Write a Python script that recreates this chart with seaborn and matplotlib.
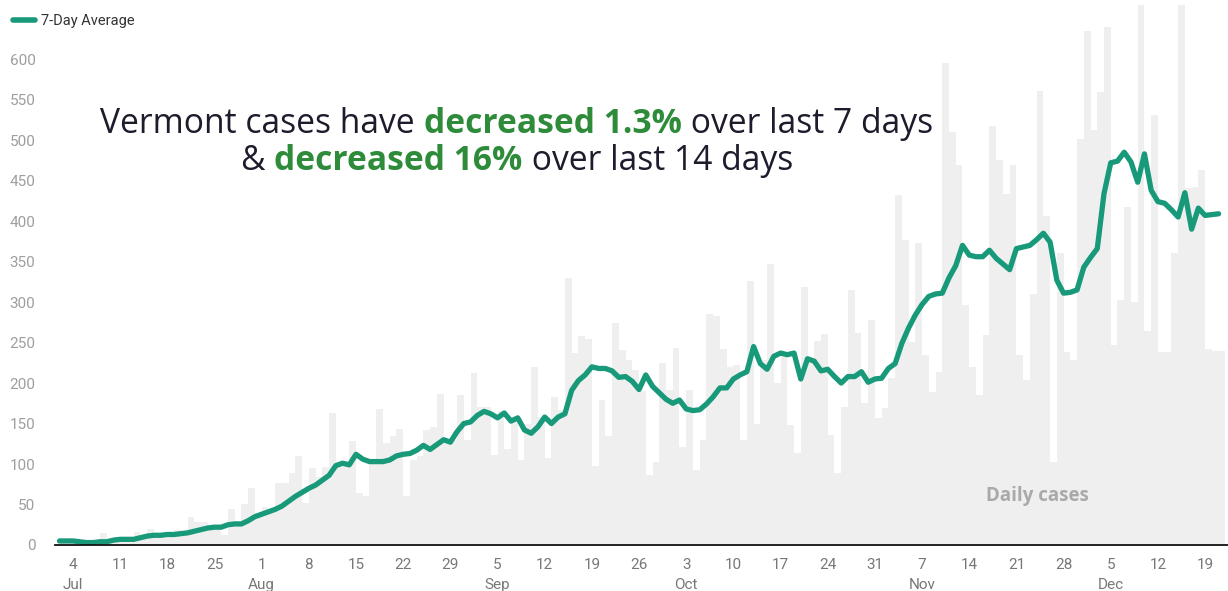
import numpy as np
import pandas as pd
import seaborn as sns
import matplotlib.pyplot as plt
from matplotlib.lines import Line2D

# Vermont daily cases + 7 day average, Jul 2 - Dec 21 2020
start_date = "2020-07-02"
end_date = "2020-12-21"
first_tick = "2020-07-04"

daily_cases = [
    6, 4, 5, 3, 2, 5, 15, 6, 4, 9,
    8, 16, 7, 20, 12, 10, 13, 18, 14, 35,
    28, 28, 18, 24, 12, 44, 30, 51, 70, 38,
    47, 45, 77, 77, 89, 110, 52, 95, 84, 96,
    163, 102, 100, 128, 64, 60, 101, 168, 126, 134,
    143, 60, 105, 110, 142, 146, 187, 126, 130, 185,
    130, 212, 170, 170, 111, 165, 119, 158, 105, 150,
    220, 158, 108, 183, 167, 330, 237, 258, 254, 97,
    179, 134, 274, 241, 228, 216, 190, 86, 102, 225,
    191, 243, 121, 192, 93, 130, 285, 283, 242, 220,
    222, 130, 326, 150, 228, 347, 200, 237, 148, 113,
    319, 228, 252, 261, 136, 89, 171, 315, 262, 175,
    278, 157, 169, 206, 432, 377, 251, 373, 235, 189,
    214, 595, 510, 469, 296, 220, 185, 259, 517, 476,
    434, 469, 235, 204, 310, 561, 406, 102, 360, 238,
    229, 501, 635, 512, 560, 640, 247, 303, 417, 300,
    667, 264, 531, 238, 238, 360, 667, 441, 442, 463,
    242, 240, 240,
]

avg_7day = [
    5, 5, 5, 4, 3, 3, 4, 4, 6, 7,
    7, 7, 9, 11, 12, 12, 13, 13, 14, 15,
    17, 19, 21, 22, 22, 25, 26, 26, 30, 35,
    38, 41, 44, 48, 54, 60, 65, 70, 74, 80,
    86, 98, 101, 99, 112, 106, 103, 103, 103, 105,
    110, 112, 113, 117, 123, 118, 124, 130, 127, 140,
    150, 152, 160, 165, 162, 157, 163, 153, 157, 142,
    138, 146, 158, 150, 158, 162, 191, 203, 210, 220,
    218, 218, 215, 207, 208, 202, 192, 210, 196, 188,
    180, 175, 179, 168, 166, 167, 174, 183, 194, 194,
    205, 210, 214, 245, 224, 217, 233, 237, 235, 237,
    205, 230, 227, 215, 217, 208, 200, 208, 208, 214,
    201, 205, 206, 218, 224, 249, 268, 284, 297, 307,
    310, 311, 330, 345, 370, 358, 356, 356, 364, 354,
    347, 340, 366, 368, 370, 377, 385, 374, 327, 311,
    312, 315, 343, 355, 366, 434, 472, 474, 485, 473,
    448, 483, 438, 424, 422, 414, 405, 435, 390, 416,
    407, 408, 409,
]

tick_day_labels = ["4", "11", "18", "25", "1", "8", "15", "22", "29", "5",
                   "12", "19", "26", "3", "10", "17", "24", "31", "7", "14",
                   "21", "28", "5", "12", "19"]
month_at_tick = ["Jul", "", "", "", "Aug", "", "", "", "", "Sep",
                 "", "", "", "Oct", "", "", "", "", "Nov", "",
                 "", "", "Dec", "", ""]

y_ticks = list(range(0, 601, 50))

headline_1 = [("Vermont cases have ", False), ("decreased 1.3%", True), (" over last 7 days", False)]
headline_2 = [("& ", False), ("decreased 16%", True), (" over last 14 days", False)]

teal = "#17997a"
bar_grey = "#efefef"
green_txt = "#2e8b3a"
dark_txt = "#1c1c2c"

dates = pd.date_range(start_date, end_date, freq="D")
df = pd.DataFrame({"date": dates, "cases": daily_cases, "avg": avg_7day})
df["day"] = (df.date - pd.Timestamp(first_tick)).dt.days

sns.set_theme(style="white")
plt.rcParams["font.family"] = ["Roboto", "DejaVu Sans"]

fig = plt.figure(figsize=(12.28, 5.91), dpi=100)
ax = fig.add_axes([55 / 1228, 46 / 591, (1228 - 55) / 1228, 545 / 591])

sns.histplot(data=df, x="day", weights="cases", binwidth=1, binrange=(-2, 171),
             color=bar_grey, alpha=1, linewidth=0, edgecolor=None, ax=ax)
sns.lineplot(data=df, x="day", y="avg", color=teal, linewidth=3.8, ax=ax,
             solid_capstyle="round", solid_joinstyle="round")

ax.set_xlim(-2.67, 171.4)
ax.set_ylim(0, 673)
ax.set_xlabel("")
ax.set_ylabel("")

ax.set_yticks(y_ticks)
ax.set_yticklabels([str(v) for v in y_ticks], color="#9e9e9e", fontsize=11)

xt = np.arange(0, 7 * len(tick_day_labels), 7)
ax.set_xticks(xt)
ax.set_xticklabels([d + ("\n" + m if m else "") for d, m in zip(tick_day_labels, month_at_tick)],
                   color="#777777", fontsize=11, linespacing=1.55, va="top")

ax.tick_params(axis="both", length=0)
ax.tick_params(axis="y", pad=14)
ax.tick_params(axis="x", pad=9.5)
for s in ["top", "right", "left"]:
    ax.spines[s].set_visible(False)
ax.spines["bottom"].set_color("#111111")
ax.spines["bottom"].set_linewidth(1.3)

# legend in the top-left corner
fig.legend(handles=[Line2D([0], [0], color=teal, lw=4, solid_capstyle="round")],
           labels=["7-Day Average"], loc="upper left", bbox_to_anchor=(0.002, 0.993),
           frameon=False, handlelength=1.5, handletextpad=0.45, fontsize=10.5,
           borderaxespad=0.3, labelcolor="#333333")

# two line headline, with the bold parts in green
head_font = ["Open Sans", "DejaVu Sans"]
renderer = fig.canvas.get_renderer()


def rich_line(parts, xc, yc, size):
    texts = []
    for s, bold in parts:
        t = fig.text(0, yc, s, fontsize=size, family=head_font,
                     fontweight="bold" if bold else "normal",
                     color=green_txt if bold else dark_txt, va="center", ha="left")
        texts.append(t)
    widths = [t.get_window_extent(renderer).width / fig.bbox.width for t in texts]
    x = xc - sum(widths) / 2
    for t, w in zip(texts, widths):
        t.set_x(x)
        x += w


rich_line(headline_1, 516.5 / 1228, 1 - 124 / 591, 24.2)
rich_line(headline_2, 517 / 1228, 1 - 161 / 591, 24.2)

fig.text(1037 / 1228, 1 - 496 / 591, "Daily cases", family=head_font, fontweight="bold",
         fontsize=13.5, color="#a9a9a9", ha="center", va="center")

fig.savefig("out.png", dpi=100)
